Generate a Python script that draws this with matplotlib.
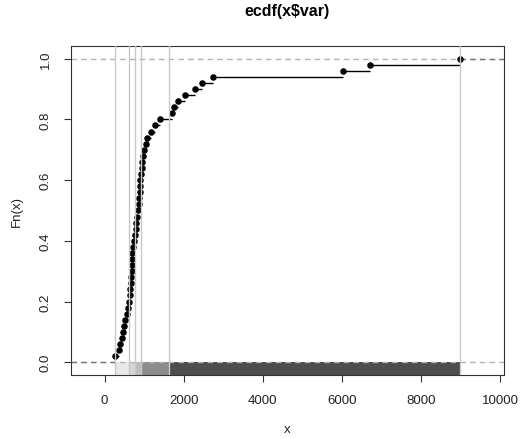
import numpy as np
import matplotlib
matplotlib.use("Agg")
import matplotlib.pyplot as plt

plt.rcParams['font.family'] = ['Liberation Sans', 'DejaVu Sans']

# sorted sample values
xvals = [256, 377, 394, 437, 462, 495, 528, 563, 595, 620,
         638, 653, 671, 678, 688, 690, 696, 700, 714, 754,
         771, 789, 804, 829, 854, 872, 879, 884, 892, 905,
         922, 935, 947, 960, 985, 1035, 1080, 1186, 1286, 1394,
         1693, 1756, 1857, 2045, 2296, 2462, 2744, 6030, 6701, 8995]

# vertical reference lines / shaded bands under the curve
band_edges = [256, 628, 771, 930, 1626, 8995]
band_colors = ['#e8e8e8', '#d6d6d6', '#bdbdbd', '#8c8c8c', '#4d4d4d']

x = np.array(xvals, dtype=float)
n = len(x)
fn = np.arange(1, n + 1) / n

D = x.max() - x.min()
dr = 0.08 * D
xlim = (x.min() - dr, x.max() + dr)
pad = 0.04 * (xlim[1] - xlim[0])
box_x = (xlim[0] - pad, xlim[1] + pad)

fig = plt.figure(figsize=(5.28, 4.39), dpi=100)
ax = fig.add_axes([0.1345, 0.1435, 0.82, 0.7495])

# bands between y=0 and bottom of box
for i in range(len(band_colors)):
    ax.fill_between([band_edges[i], band_edges[i + 1]], -0.1, 0,
                    color=band_colors[i], lw=0, zorder=1)

# dashed reference lines at 0 and 1
ax.axhline(0, color='#b3b3b3', ls=(0, (4, 3)), lw=1, zorder=2)
ax.axhline(1, color='#b3b3b3', ls=(0, (4, 3)), lw=1, zorder=2)
ax.plot([box_x[0], x[0]], [0, 0], color='#777777', ls=(0, (4, 3)), lw=1, zorder=3)
ax.plot([x[-1], box_x[1]], [1, 1], color='#777777', ls=(0, (4, 3)), lw=1, zorder=3)

# step segments
ax.hlines(fn[:-1], x[:-1], x[1:], color='black', lw=1, zorder=3)
ax.plot(x, fn, 'o', color='black', ms=4.7, mew=0, zorder=4)

# vertical lines at band edges
for v in band_edges:
    ax.axvline(v, color='#c8c8c8', lw=1, zorder=5)

ax.set_xlim(box_x)
ax.set_ylim(-0.042, 1.042)
ax.set_xticks(np.arange(0, 10001, 2000))
ax.set_yticks(np.arange(0, 1.01, 0.2))
ax.set_yticklabels(['0.0', '0.2', '0.4', '0.6', '0.8', '1.0'], rotation=90, va='center')
ax.tick_params(direction='out', length=5, width=0.8, labelsize=9.5, pad=9,
               color='#333333', labelcolor='#222222')
for s in ax.spines.values():
    s.set_linewidth(0.8)
    s.set_color('#333333')

ax.set_xlabel('x', fontsize=9.5, labelpad=12, color='#222222')
ax.set_ylabel('Fn(x)', fontsize=9.5, labelpad=12, color='#222222')
ax.set_title('ecdf(x$var)', fontsize=11.5, fontweight='bold', pad=22)

fig.savefig('out.png', dpi=100)
